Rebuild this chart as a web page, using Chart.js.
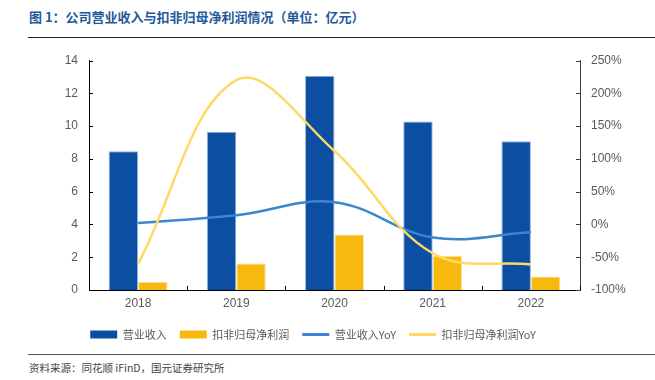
<!DOCTYPE html>
<html>
<head>
<meta charset="utf-8">
<script src="https://cdn.jsdelivr.net/npm/chart.js@4.4.0/dist/chart.umd.min.js"></script>
<style>
  html, body { margin: 0; padding: 0; background: #fff; }
  body { width: 655px; height: 380px; position: relative; overflow: hidden; font-family: "Noto Sans CJK SC", sans-serif; }
  #title { position: absolute; left: 29px; top: 7px; font-size: 13px; font-weight: bold; color: #1F5A9C; white-space: nowrap; }
  #rule1 { position: absolute; left: 28px; top: 37px; width: 627px; height: 1px; background: #222; }
  #rule2 { position: absolute; left: 28px; top: 354px; width: 627px; height: 1px; background: #555; }
  #source { position: absolute; left: 29px; top: 360px; font-size: 10.5px; color: #444; white-space: nowrap; }
  #wrap { position: absolute; left: 0; top: 40px; width: 655px; height: 310px; }
</style>
</head>
<body>
<div id="title">图 1：公司营业收入与扣非归母净利润情况（单位：亿元）</div>
<div id="rule1"></div>
<div id="wrap"><canvas id="c"></canvas></div>
<div id="rule2"></div>
<div id="source">资料来源：同花顺 iFinD，国元证券研究所</div>
<script>
const categories = ["2018", "2019", "2020", "2021", "2022"];
const revenue = [8.46, 9.66, 13.07, 10.28, 9.07];
const netProfit = [0.51, 1.62, 3.38, 2.09, 0.82];
const revenueYoY = [2, 14, 34, -20, -12];
const netProfitYoY = [-60, 220, 112, -44, -61];
const seriesNames = ["营业收入", "扣非归母净利润", "营业收入YoY", "扣非归母净利润YoY"];

const tickFont = { family: "'Liberation Sans', Arial, sans-serif", size: 12 };
const tickColor = "#595959";

const innerTicks = {
  id: "innerTicks",
  afterDatasetsDraw(chart) {
    const ctx = chart.ctx;
    const a = chart.chartArea;
    ctx.save();
    ctx.lineWidth = 1;
    const y = chart.scales.y;
    ctx.strokeStyle = "#000";
    y.ticks.forEach((t, i) => {
      const p = Math.round(y.getPixelForTick(i)) + 0.5;
      ctx.beginPath(); ctx.moveTo(a.left, p); ctx.lineTo(a.left + 4, p); ctx.stroke();
    });
    const y1 = chart.scales.y1;
    ctx.strokeStyle = "#404040";
    y1.ticks.forEach((t, i) => {
      const p = Math.round(y1.getPixelForTick(i)) + 0.5;
      ctx.beginPath(); ctx.moveTo(a.right - 4, p); ctx.lineTo(a.right, p); ctx.stroke();
    });
    const x = chart.scales.x;
    ctx.strokeStyle = "#000";
    for (let i = 0; i <= categories.length; i++) {
      const p = Math.round(x.getPixelForValue(i - 0.5)) + 0.5;
      ctx.beginPath(); ctx.moveTo(p, a.bottom); ctx.lineTo(p, a.bottom - 4); ctx.stroke();
    }
    ctx.restore();
  }
};

new Chart(document.getElementById("c"), {
  type: "bar",
  data: {
    labels: categories,
    datasets: [
      { label: seriesNames[0], data: revenue, yAxisID: "y", backgroundColor: "#0C4EA2", borderColor: "#8FB2E0", borderWidth: { left: 1, right: 1, top: 1, bottom: 0 }, categoryPercentage: 0.6, barPercentage: 1.0, order: 2 },
      { label: seriesNames[1], data: netProfit, yAxisID: "y", backgroundColor: "#F8B90F", borderColor: "#FCE3A0", borderWidth: { left: 1, right: 1, top: 1, bottom: 0 }, categoryPercentage: 0.6, barPercentage: 1.0, order: 3 },
      { type: "line", label: seriesNames[2], data: revenueYoY, yAxisID: "y1", borderColor: "#3A86CF", backgroundColor: "#3A86CF", borderWidth: 2.5, pointRadius: 0, tension: 0.38, order: 1 },
      { type: "line", label: seriesNames[3], data: netProfitYoY, yAxisID: "y1", borderColor: "#FFD966", backgroundColor: "#FFD966", borderWidth: 2.5, pointRadius: 0, tension: 0.38, order: 0 }
    ]
  },
  options: {
    responsive: true,
    maintainAspectRatio: false,
    animation: false,
    layout: { padding: { left: 0, right: 29, top: 20.5, bottom: 0 } },
    plugins: {
      tooltip: { enabled: false },
      legend: {
        position: "bottom",
        labels: {
          usePointStyle: true,
          pointStyleWidth: 27,
          boxWidth: 27,
          boxHeight: 8,
          padding: 13,
          color: "#595959",
          font: { family: "'Noto Sans CJK SC', sans-serif", size: 11 },
          sort: (a, b) => a.datasetIndex - b.datasetIndex,
          generateLabels(chart) {
            const items = Chart.defaults.plugins.legend.labels.generateLabels(chart);
            items.forEach(it => {
              const ds = chart.data.datasets[it.datasetIndex];
              if (ds.type === "line") {
                it.pointStyle = "line";
                it.lineWidth = 3;
                it.strokeStyle = ds.borderColor;
              } else {
                it.pointStyle = "rect";
                it.lineWidth = 0;
                it.strokeStyle = ds.backgroundColor;
                it.fillStyle = ds.backgroundColor;
              }
            });
            return items;
          }
        }
      }
    },
    scales: {
      x: {
        offset: true,
        grid: { display: false, drawTicks: false },
        border: { display: true, color: "#000", width: 1 },
        ticks: { color: tickColor, font: tickFont, padding: 6 },
        afterFit(s) { s.height = 26; }
      },
      y: {
        position: "left",
        min: 0, max: 14,
        ticks: { stepSize: 2, color: tickColor, font: tickFont, padding: 11 },
        grid: { display: false, drawTicks: false },
        border: { display: true, color: "#000", width: 1 },
        afterFit(s) { s.width = 89; }
      },
      y1: {
        position: "right",
        min: -100, max: 250,
        ticks: { stepSize: 50, color: tickColor, font: tickFont, padding: 11, callback: v => v + "%" },
        grid: { display: false, drawTicks: false },
        border: { display: true, color: "#404040", width: 1 },
        afterFit(s) { s.width = 46; }
      }
    }
  },
  plugins: [innerTicks]
});
</script>
</body>
</html>
